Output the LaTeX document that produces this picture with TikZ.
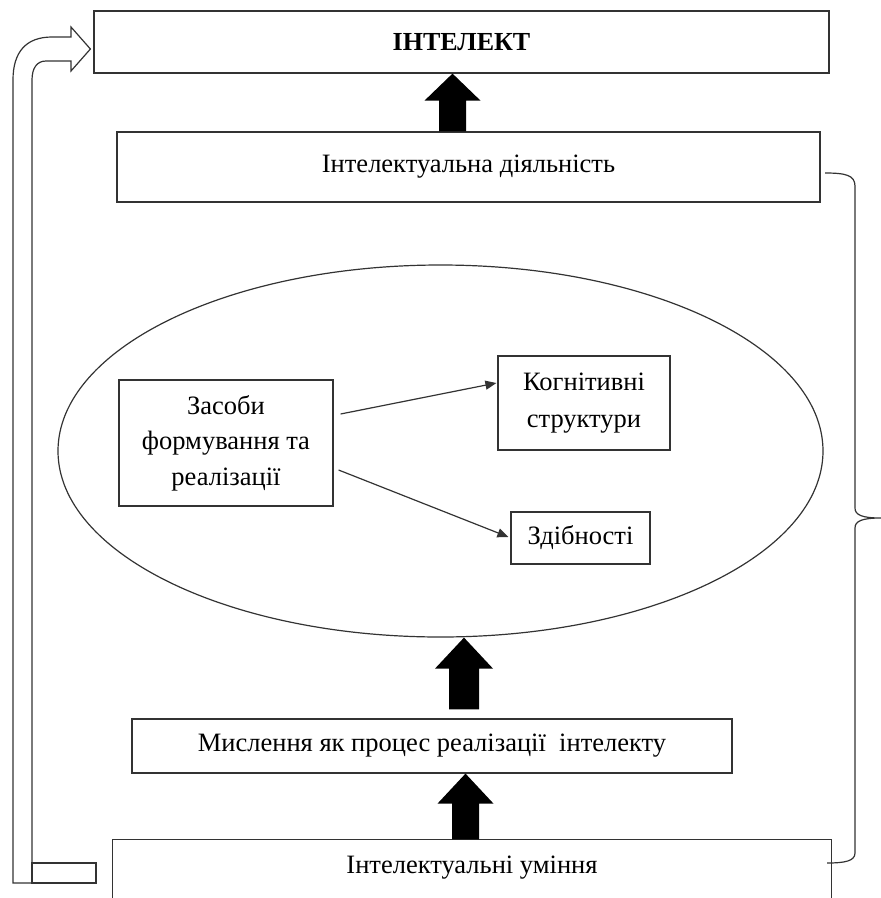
\documentclass[tikz,border=0pt]{standalone}
\usepackage{fontspec}
\setmainfont{Liberation Serif}
\usetikzlibrary{calc,arrows.meta,shapes.geometric}

% thick black upward block arrow: start (bottom of shaft), tip, half shaft, half head, head length
\newcommand\fatup[5]{%
  \fill[black] let \p1=#1, \p2=#2 in
    (\x1-#3pt,\y1) -- (\x1-#3pt,\y2-#5pt) -- (\x1-#4pt,\y2-#5pt) -- (\x1,\y2)
    -- (\x1+#4pt,\y2-#5pt) -- (\x1+#3pt,\y2-#5pt) -- (\x1+#3pt,\y1) -- cycle;}

\tikzset{
  ln/.style={draw=black!80, line width=1.2pt},
  box/.style={ln, rectangle, inner sep=0pt, align=center,
              font=\fontsize{26.5}{35.5}\selectfont},
  thinarrow/.style={ln, -{Triangle[length=11pt,width=9pt]}},
}

\begin{document}
\begin{tikzpicture}[x=1pt,y=-1pt]
\useasboundingbox (0,0) rectangle (881,898);

% main boxes
\node[box, minimum width=735pt, minimum height=62pt] (top) at (461.5,42)
  {\fontsize{26}{30}\selectfont\bfseries ІНТЕЛЕКТ};
\node[box, minimum width=703pt, minimum height=70pt] (act) at (468.5,167)
  {Інтелектуальна діяльність};
\node[ln, ellipse, inner sep=0pt, minimum width=765pt, minimum height=372pt] (ell) at (440.5,451) {};
\node[box, minimum width=214pt, minimum height=126pt] (zas) at (226,443)
  {Засоби\\формування та\\реалізації};
\node[box, minimum width=172pt, minimum height=94pt, font=\fontsize{26.5}{37}\selectfont] (cog) at (584,403)
  {Когнітивні\\структури};
\node[box, minimum width=139pt, minimum height=52pt] (zd) at (580.5,538)
  {Здібності};
\node[box, minimum width=600pt, minimum height=54pt] (mys) at (432,746)
  {Мислення як процес реалізації\ \ інтелекту};
\node[box, draw=none, minimum width=718pt, minimum height=56pt] (umin) at (472,868)
  {Інтелектуальні уміння};
\draw[ln] ([yshift=-20pt]umin.south west) -- (umin.north west) -- (umin.north east)
  -- ([yshift=-20pt]umin.south east);

% arrows inside the ellipse
\draw[thinarrow] ($(zas.east)+(7,-29)$) -- ($(cog.west)+(-1,-20)$);
\draw[thinarrow] ($(zas.east)+(5,27)$) -- ($(zd.west)+(-2,-1)$);

% block arrows between the levels
\coordinate (c1) at (452.5,0);
\coordinate (c2) at (464,0);
\coordinate (c3) at (465.5,0);
\fatup{(act.north -| c1)}{(top.south -| c1)}{13.5}{28}{27}
\fatup{([yshift=9pt]mys.north -| c2)}{(ell.south -| c2)}{15}{29}{31}
\fatup{(umin.north -| c3)}{(mys.south -| c3)}{13.5}{28}{30}

% hollow bent arrow on the left, from the bottom up to the top box
\coordinate (hb) at ([xshift=-3pt]top.west);
\draw[ln, line join=miter]
  (13,883) -- (13,80) .. controls (13,52) and (26,37) .. (52,37)
  -- (71,37) -- (71,27) -- (hb |- 0,49) -- (71,71) -- (71,61) -- (46,61)
  .. controls (37,61) and (32,68) .. (32,80) -- (32,883) -- cycle;
\draw[ln] (32,863) rectangle (96,883);

% right brace joining the levels
\draw[ln]
  (825,173) .. controls (845,173) and (855,175) .. (855,186)
  -- (855,508) .. controls (855,515) and (862,518) .. (881,518)
  (881,518) .. controls (862,518) and (855,521) .. (855,528)
  -- (855,853) .. controls (855,861) and (845,863) .. (827,863);
\end{tikzpicture}
\end{document}
